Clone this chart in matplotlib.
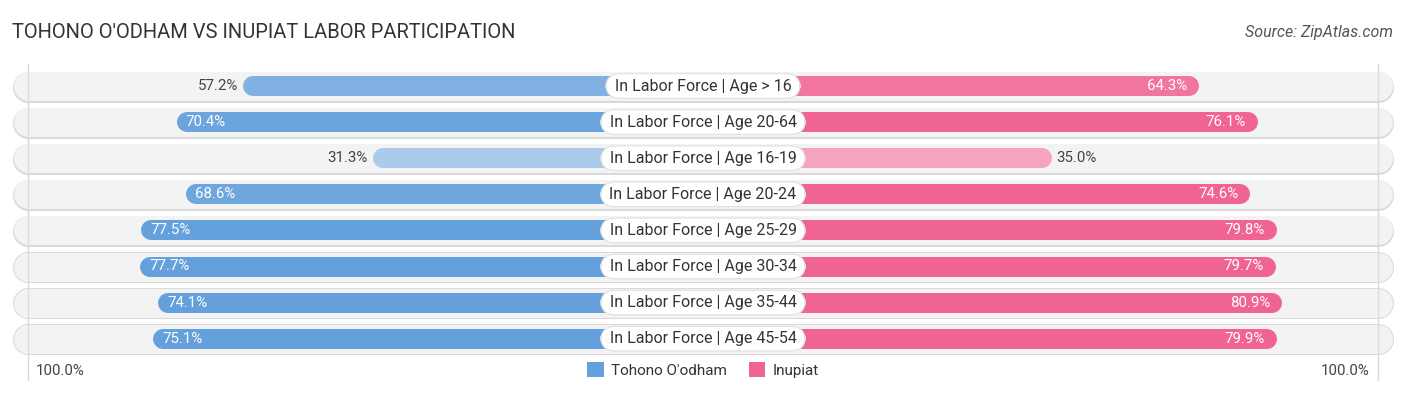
import matplotlib
matplotlib.use("Agg")
import matplotlib.pyplot as plt
import numpy as np
from matplotlib.patches import Patch

plt.rcParams['font.family'] = ['Roboto', 'DejaVu Sans']

categories = ["In Labor Force | Age > 16", "In Labor Force | Age 20-64",
              "In Labor Force | Age 16-19", "In Labor Force | Age 20-24",
              "In Labor Force | Age 25-29", "In Labor Force | Age 30-34",
              "In Labor Force | Age 35-44", "In Labor Force | Age 45-54"]
tohono = [57.2, 70.4, 31.3, 68.6, 77.5, 77.7, 74.1, 75.1]
inupiat = [64.3, 76.1, 35.0, 74.6, 79.8, 79.7, 80.9, 79.9]
series_names = ["Tohono O'odham", "Inupiat"]

BLUE = np.array([100, 160, 220]) / 255
PINK = np.array([240, 100, 145]) / 255

W, H = 1406, 395
PX = 5.02          # pixels per percent
OFF = 173 / PX     # gap between center and bar start
ROW0, STEP = 86, 36.1


def shade(base, v):
    t = np.clip(0.55 + (v - 31.3) * 0.0104, 0, 1)
    return tuple(1 - t * (1 - base))


def px_to_pt(p):
    return p * 0.72


fig = plt.figure(figsize=(W / 100, H / 100), dpi=100)
ax = fig.add_axes([0, 0, 1, 1])
cx = W / 2 / PX
ax.set_xlim(-cx, cx)
ax.set_ylim((H - ROW0) / STEP, -ROW0 / STEP)
ax.axis("off")

edge = (13 - W / 2) / PX
rad_bg = 15 / PX
full = OFF + 100

# vertical 100% guides
ax.plot([-full, -full], [-0.6, (380 - ROW0) / STEP], color="#d8d8d8", lw=1, zorder=0.5)
ax.plot([full, full], [-0.6, (380 - ROW0) / STEP], color="#d8d8d8", lw=1, zorder=0.5)

r = 10 / PX
for i, cat in enumerate(categories):
    # row background
    ax.plot([edge + rad_bg, -edge - rad_bg], [i + 0.02, i + 0.02], color="#d9d9d9",
            lw=px_to_pt(31), solid_capstyle="round", zorder=1)
    ax.plot([edge + rad_bg, -edge - rad_bg], [i, i], color="#f3f3f3",
            lw=px_to_pt(29), solid_capstyle="round", zorder=1.1)
    ax.plot([-full, -full], [i - 0.4, i + 0.4], color="#dcdcdc", lw=1, zorder=1.2)
    ax.plot([full, full], [i - 0.4, i + 0.4], color="#dcdcdc", lw=1, zorder=1.2)

    a, b = tohono[i], inupiat[i]
    ax.plot([-(OFF + a) + r, 0], [i, i], color=shade(BLUE, a),
            lw=px_to_pt(20), solid_capstyle="round", zorder=2)
    ax.plot([0, OFF + b - r], [i, i], color=shade(PINK, b),
            lw=px_to_pt(20), solid_capstyle="round", zorder=2)

    if a >= 60:
        ax.text(-(OFF + a) + 9 / PX, i, f"{a:.1f}%", color="white", fontsize=10.8,
                ha="left", va="center", zorder=3)
    else:
        ax.text(-(OFF + a) - 5 / PX, i, f"{a:.1f}%", color="#444444", fontsize=10.8,
                ha="right", va="center", zorder=3)
    if b >= 60:
        ax.text(OFF + b - 12 / PX, i, f"{b:.1f}%", color="white", fontsize=10.8,
                ha="right", va="center", zorder=3)
    else:
        ax.text(OFF + b + 5 / PX, i, f"{b:.1f}%", color="#444444", fontsize=10.8,
                ha="left", va="center", zorder=3)

    ax.text(0, i, " " + cat + " ", fontsize=11.5, color="#333333", ha="center", va="center",
            zorder=4,
            bbox=dict(boxstyle="round,pad=0.3,rounding_size=0.9", fc="white", ec="#e0e0e0", lw=0.8))

# bottom axis labels
ybot = (371 - ROW0) / STEP
ax.text(-full + 8 / PX, ybot, "100.0%", fontsize=10.8, color="#444444", ha="left", va="center")
ax.text(full - 8 / PX, ybot, "100.0%", fontsize=10.8, color="#444444", ha="right", va="center")

handles = [Patch(facecolor=tuple(BLUE), edgecolor="none"),
           Patch(facecolor=tuple(PINK), edgecolor="none")]
ax.legend(handles, series_names, loc="center", bbox_to_anchor=(0.5, 1 - 370 / H), ncol=2,
          frameon=False, fontsize=11, handlelength=1.1, handleheight=1.1,
          handletextpad=0.5, columnspacing=1.4, labelcolor="#333333")

fig.text(12 / W, 1 - 33 / H, "TOHONO O'ODHAM VS INUPIAT LABOR PARTICIPATION", fontsize=14.5,
         color="#333333", ha="left", va="center")
fig.text(1 - 13 / W, 1 - 33 / H, "Source: ZipAtlas.com", fontsize=11.5, style="italic",
         color="#555555", ha="right", va="center")

fig.savefig("out.png", dpi=100)
